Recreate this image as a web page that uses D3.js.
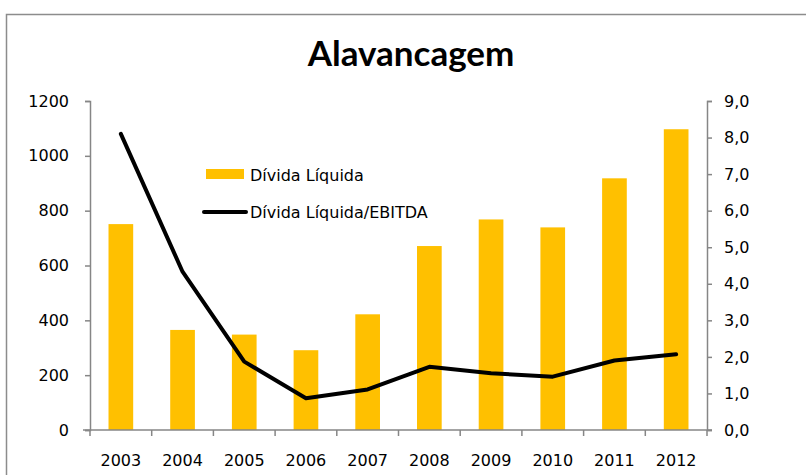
<!DOCTYPE html>
<html>
<head>
<meta charset="utf-8">
<script src="https://cdn.jsdelivr.net/npm/d3@7"></script>
<style>
  body { margin: 0; background: #fff; }
  svg { display: block; }
</style>
</head>
<body>
<svg id="chart" width="806" height="475"></svg>
<script>
// Data
var years = ["2003", "2004", "2005", "2006", "2007", "2008", "2009", "2010", "2011", "2012"];
var divida = [751, 365, 348, 291, 422, 671, 768, 739, 918, 1097];
var ratio = [8.10, 4.33, 1.87, 0.87, 1.11, 1.73, 1.55, 1.46, 1.90, 2.07];
var leftTicks = [0, 200, 400, 600, 800, 1000, 1200];
var rightTicks = [0, 1, 2, 3, 4, 5, 6, 7, 8, 9];

var svg = d3.select("#chart");
var axisColor = "#868686";
var font = "DejaVu Sans, Verdana, sans-serif";

// Outer frame
svg.append("rect")
    .attr("x", 6.5).attr("y", 14.5)
    .attr("width", 820).attr("height", 480)
    .attr("fill", "none")
    .attr("stroke", "#8c8c8c")
    .attr("stroke-width", 1.5);

// Title
svg.append("text")
    .attr("x", 411).attr("y", 66)
    .attr("text-anchor", "middle")
    .attr("font-family", "Lato, Open Sans, sans-serif")
    .attr("font-weight", "bold")
    .attr("font-size", 35)
    .text("Alavancagem");

var pLeft = 90, pRight = 707, pTop = 101, pBottom = 430;

var x = d3.scaleBand().domain(years).range([pLeft, pRight]).paddingInner(0.6).paddingOuter(0.3);
var xb = d3.scaleBand().domain(years).range([pLeft, pRight]);
var yL = d3.scaleLinear().domain([0, 1200]).range([pBottom, pTop]);
var yR = d3.scaleLinear().domain([0, 9]).range([pBottom, pTop]);

// Bars
svg.append("g").selectAll("rect")
    .data(divida)
    .join("rect")
    .attr("x", (d, i) => x(years[i]))
    .attr("width", x.bandwidth())
    .attr("y", d => yL(d))
    .attr("height", d => pBottom - yL(d))
    .attr("fill", "#ffc000");

// Line
var line = d3.line()
    .x((d, i) => xb(years[i]) + xb.bandwidth() / 2)
    .y(d => yR(d));
svg.append("path")
    .datum(ratio)
    .attr("d", line)
    .attr("fill", "none")
    .attr("stroke", "#000")
    .attr("stroke-width", 4)
    .attr("stroke-linejoin", "round")
    .attr("stroke-linecap", "round");

// Left axis
var gL = svg.append("g")
    .attr("transform", "translate(" + pLeft + ",0)")
    .call(d3.axisLeft(yL).tickValues(leftTicks).tickSizeOuter(0).tickSize(5).tickPadding(16)
        .tickFormat(d => String(d)));

// Right axis
var gR = svg.append("g")
    .attr("transform", "translate(" + pRight + ",0)")
    .call(d3.axisRight(yR).tickValues(rightTicks).tickSizeOuter(0).tickSize(5).tickPadding(12)
        .tickFormat(d => d3.format(".1f")(d).replace(".", ",")));

// Bottom axis, ticks on category boundaries
var gB = svg.append("g")
    .attr("transform", "translate(0," + pBottom + ")");
gB.append("line")
    .attr("x1", pLeft - 7).attr("x2", pRight + 5)
    .attr("stroke", axisColor).attr("stroke-width", 1.5);
gB.selectAll("line.tick")
    .data(years.concat(["end"]))
    .join("line")
    .attr("class", "tick")
    .attr("x1", (d, i) => pLeft + i * xb.bandwidth())
    .attr("x2", (d, i) => pLeft + i * xb.bandwidth())
    .attr("y1", 0).attr("y2", 6)
    .attr("stroke", axisColor).attr("stroke-width", 1.5);
gB.selectAll("text")
    .data(years)
    .join("text")
    .attr("x", d => xb(d) + xb.bandwidth() / 2)
    .attr("y", 36)
    .attr("text-anchor", "middle")
    .attr("font-family", font)
    .attr("font-size", 16)
    .attr("fill", "#000")
    .text(d => d);

[gL, gR].forEach(g => {
    g.select(".domain").attr("stroke", axisColor).attr("stroke-width", 1.5);
    g.selectAll(".tick line").attr("stroke", axisColor).attr("stroke-width", 1.5);
    g.selectAll(".tick text").attr("font-family", font).attr("font-size", 16).attr("fill", "#000");
});

// Legend
var leg = svg.append("g");
leg.append("rect")
    .attr("x", 206).attr("y", 169).attr("width", 38).attr("height", 10)
    .attr("fill", "#ffc000");
leg.append("text")
    .attr("x", 250).attr("y", 181)
    .attr("font-family", font).attr("font-size", 16)
    .text("Dívida Líquida");
leg.append("line")
    .attr("x1", 204).attr("x2", 246).attr("y1", 212).attr("y2", 212)
    .attr("stroke", "#000").attr("stroke-width", 4).attr("stroke-linecap", "round");
leg.append("text")
    .attr("x", 250).attr("y", 218)
    .attr("font-family", font).attr("font-size", 16)
    .text("Dívida Líquida/EBITDA");
</script>
</body>
</html>
